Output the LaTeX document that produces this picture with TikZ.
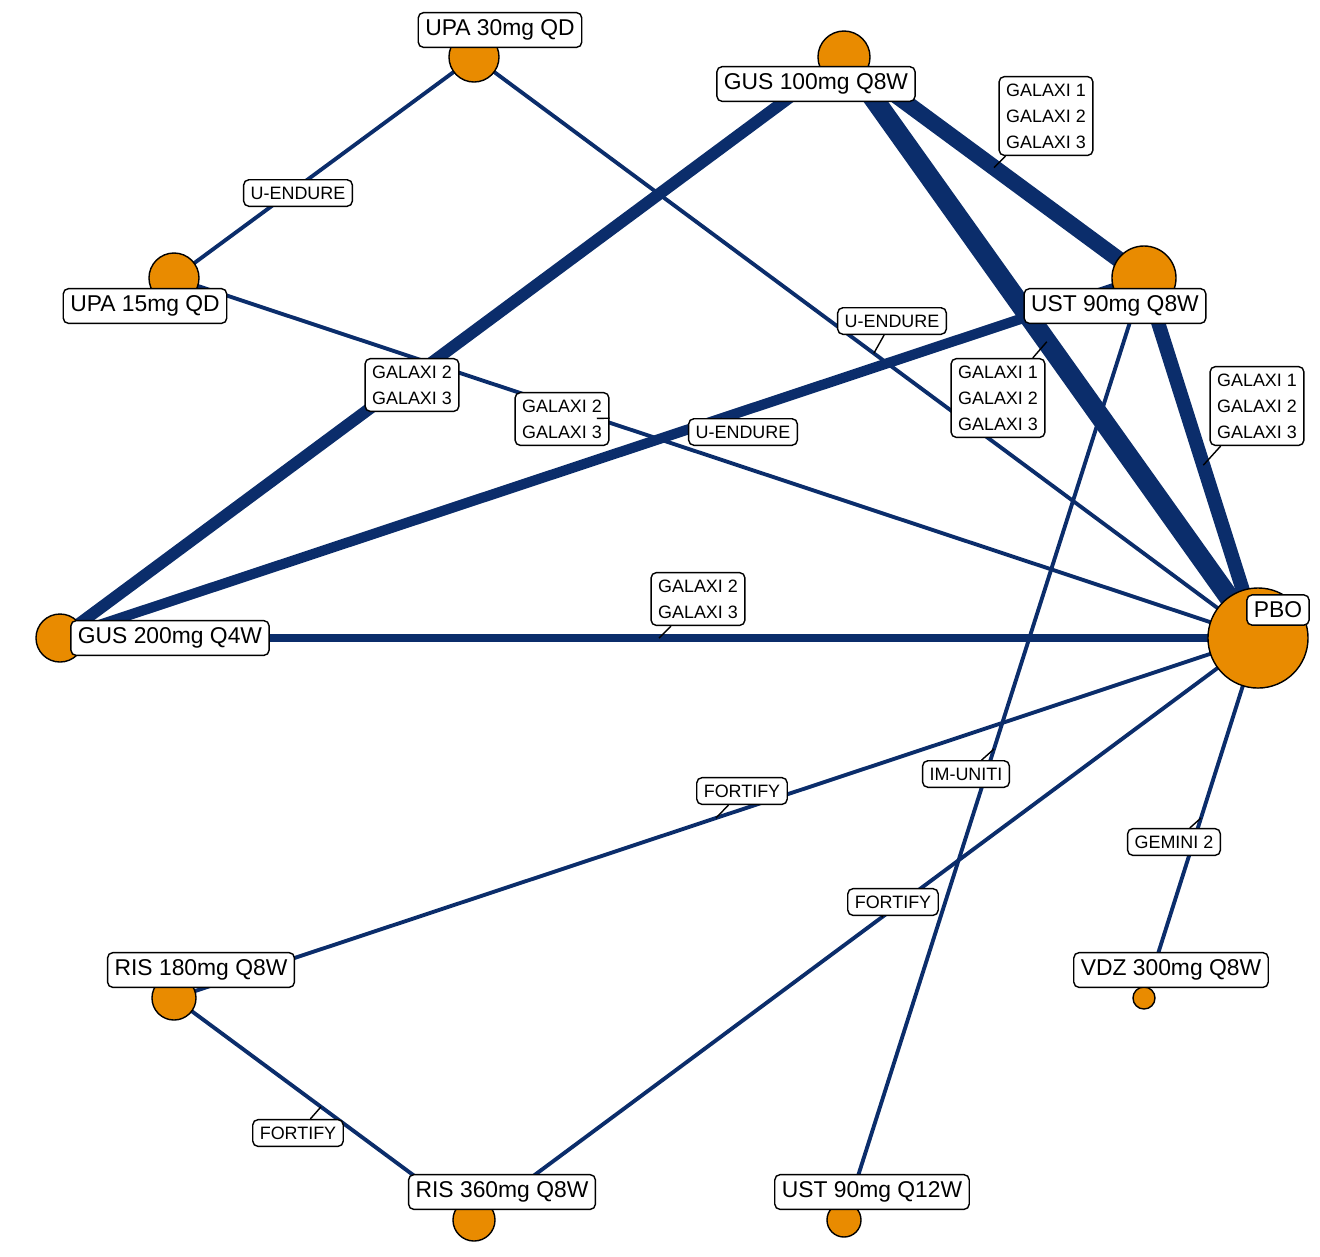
\documentclass[tikz,border=0pt]{standalone}
\usepackage{fontspec}
\setmainfont{Liberation Sans}
\definecolor{navy}{HTML}{0B2D6B}
\definecolor{dot}{HTML}{E98B00}
\tikzset{
  trt/.style={draw=black,fill=dot,circle,inner sep=0pt,thin,minimum size=#1},
  lab/.style={draw=black,fill=white,rounded corners=1.5pt,inner sep=2pt,font=\fontsize{6.5}{7.5}\selectfont},
  stud/.style={draw=black,fill=white,rounded corners=1.5pt,inner sep=2pt,align=center,font=\fontsize{5.1}{7.4}\selectfont},
  edge/.style={draw=navy,line width=#1}
}
\begin{document}
\begin{tikzpicture}[x=0.01cm,y=-0.01cm]
\useasboundingbox (0,0) rectangle (1320,1256);
% treatments
\coordinate (upa30) at (474,57);
\coordinate (gus100) at (844,57);
\coordinate (upa15) at (174,278);
\coordinate (ust8) at (1144,278);
\coordinate (gus200) at (60,638);
\coordinate (pbo) at (1258,638);
\coordinate (ris180) at (174,998);
\coordinate (vdz) at (1144,998);
\coordinate (ris360) at (474,1220);
\coordinate (ust12) at (844,1220);
% comparisons
\draw[edge=1.1pt] (upa30) -- (upa15);
\draw[edge=1.1pt] (upa30) -- coordinate[pos=0.51] (m1) (pbo);
\draw[edge=1.1pt] (upa15) -- coordinate[pos=0.39] (m2) (pbo);
\draw[edge=3.4pt] (gus100) -- (gus200);
\draw[edge=4.6pt] (gus100) -- coordinate[pos=0.5] (m3) (ust8);
\draw[edge=5.7pt] (gus100) -- coordinate[pos=0.49] (m4) (pbo);
\draw[edge=2.9pt] (ust8) -- coordinate[pos=0.39] (m5) (gus200);
\draw[edge=4pt] (ust8) -- coordinate[pos=0.52] (m6) (pbo);
\draw[edge=1.1pt] (ust8) -- coordinate[pos=0.5] (m7) (ust12);
\draw[edge=2.3pt] (gus200) -- coordinate[pos=0.5] (m8) (pbo);
\draw[edge=1.1pt] (pbo) -- coordinate[pos=0.5] (m9) (ris180);
\draw[edge=1.1pt] (pbo) -- coordinate[pos=0.48] (m10) (ris360);
\draw[edge=1.1pt] (pbo) -- coordinate[pos=0.5] (m11) (vdz);
\draw[edge=1.1pt] (ris180) -- coordinate[pos=0.49] (m12) (ris360);
% circles
\node[trt=0.5cm] at (upa30) {};
\node[trt=0.52cm] at (gus100) {};
\node[trt=0.5cm] at (upa15) {};
\node[trt=0.64cm] at (ust8) {};
\node[trt=0.48cm] at (gus200) {};
\node[trt=1cm] at (pbo) {};
\node[trt=0.44cm] at (ris180) {};
\node[trt=0.22cm] at (vdz) {};
\node[trt=0.42cm] at (ris360) {};
\node[trt=0.34cm] at (ust12) {};
% study labels
\node[stud] (s0) at (298,193) {U-ENDURE};
\node[stud] (s1) at (892,321) {U-ENDURE};
\node[stud] (s2) at (562,419) {GALAXI 2\\GALAXI 3};
\node[stud] (s13) at (412,385) {GALAXI 2\\GALAXI 3};
\node[stud] (s3) at (1046,116) {GALAXI 1\\GALAXI 2\\GALAXI 3};
\node[stud] (s4) at (998,398) {GALAXI 1\\GALAXI 2\\GALAXI 3};
\node[stud] (s5) at (743,432) {U-ENDURE};
\node[stud] (s6) at (1257,406) {GALAXI 1\\GALAXI 2\\GALAXI 3};
\node[stud] (s7) at (966,774) {IM-UNITI};
\node[stud] (s8) at (698,599) {GALAXI 2\\GALAXI 3};
\node[stud] (s9) at (742,791) {FORTIFY};
\node[stud] (s10) at (893,902) {FORTIFY};
\node[stud] (s11) at (1174,842) {GEMINI 2};
\node[stud] (s12) at (298,1133) {FORTIFY};
\foreach \i in {1,...,12}
  \draw[black,thin] (s\i) -- (m\i);
% treatment labels
\node[lab] at (500,30) {UPA 30mg QD};
\node[lab] at (816,84) {GUS 100mg Q8W};
\node[lab] at (145,306) {UPA 15mg QD};
\node[lab] at (1115,306) {UST 90mg Q8W};
\node[lab] at (170,638) {GUS 200mg Q4W};
\node[lab] at (1278,610) {PBO};
\node[lab] at (201,970) {RIS 180mg Q8W};
\node[lab] at (1171,970) {VDZ 300mg Q8W};
\node[lab] at (502,1192) {RIS 360mg Q8W};
\node[lab] at (872,1192) {UST 90mg Q12W};
\end{tikzpicture}
\end{document}
